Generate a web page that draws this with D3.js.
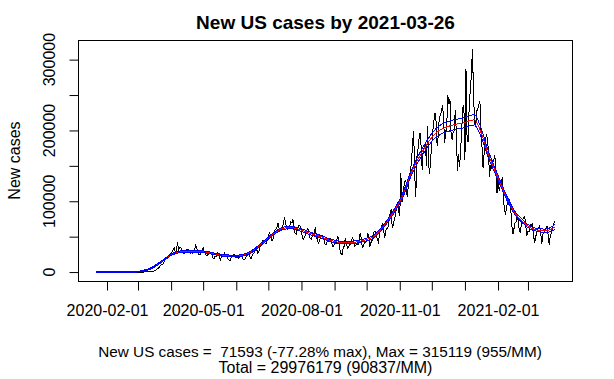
<!DOCTYPE html>
<html>
<head>
<meta charset="utf-8">
<script src="https://cdn.jsdelivr.net/npm/d3@7"></script>
<style>
  html, body { margin: 0; padding: 0; background: #fff; }
  svg { display: block; }
  text { font-family: "Liberation Sans", Arial, sans-serif; fill: #000; }
</style>
</head>
<body>
<svg id="chart" width="614" height="379"></svg>
<script>
// ---------------- DATA ----------------
const startDate = "2020-01-22";   // first daily value
const titleText = "New US cases by 2021-03-26";
const yAxisTitle = "New cases";
const footerLine1 = "New US cases =  71593 (-77.28% max), Max = 315119 (955/MM)";
const footerLine2 = "Total = 29976179 (90837/MM)";

// daily new cases, month by month
const jan2020 = [0,1,0,0,3,0,0,0,1,1];
const feb2020 = [1,0,3,0,0,0,1,0,0,1, 0,0,1,0,0,0,0,0,0,0, 2,0,0,0,0,1,3,4,8];
const mar2020 = [12,22,24,34,75,58,164,115,190,290, 420,460,640,720,1100,1320,1850,2880,4650,5560,
                 6880,9300,10540,10720,12800,17350,18620,19560,19950,21600, 25150];
const apr2020 = [26400,28900,32100,34200,27800,30600,42100,31800,34700,35100,
                 30500,27600,25800,27100,30300,31800,32400,30800,26400,27900,
                 26100,29300,30900,37800,33800,27100,23900,24600,27700,30200];
const may2020 = [33900,29200,25500,22900,24200,24800,28900,27700,25800,20500,
                 18600,22300,21400,27500,25900,24300,16500,22100,21300,21800,
                 27200,23800,22600,19400,16900,15400,19600,21700,24300,24600, 20500];
const jun2020 = [20300,21900,19800,21200,24800,23100,18500,17900,18300,21400,
                 22800,24600,25600,19900,19200,23600,26300,27800,31900,32500,
                 27100,28800,34500,37900,39400,45600,42800,40500,40100,44900];
const jul2020 = [50600,55100,53400,45300,44800,49700,58900,60100,62300,68900,
                 62000,58100,59400,63800,68200,75600,71400,61800,59900,61300,
                 64700,71200,69300,74100,64800,54900,53700,60300,63800,66300, 64900];
const aug2020 = [57800,47400,46200,50600,53100,58600,61200,55300,47900,46300,
                 50500,54600,52600,63500,51200,44400,40900,45500,48100,47200,
                 51900,47500,39600,38300,42800,43400,45200,47600,44200,36100, 35500];
const sep2020 = [41200,39800,44100,51300,42100,31800,26400,24500,33600,36800,
                 47800,41700,33800,35100,39200,38700,45500,48900,42300,36200,
                 38200,39300,39100,44800,55000,47600,34500,35500,43100,41600];
const oct2020 = [45100,54600,49200,35800,41500,44300,50900,57400,57900,53800,
                 46200,42100,51600,59800,64100,69500,57300,48300,58800,61200,
                 63800,76300,83100,88400,61900,67200,74800,80900,91300,99200, 84400];
const nov2020 = [79500,140000,98400,108200,121600,129300,126800,105400,121900,134800,
                 143100,155400,181200,199800,138600,106300,162400,171800,187900,196400,
                 177900,144600,174300,175200,184100,149300,205600,152700,139100,161800];
const dec2020 = [181200,199400,214600,224300,212800,177400,192600,218900,221700,226800,
                 236400,217500,182300,196800,206900,249800,237300,244100,196200,186700,
                 198400,199300,229100,194600,142300,166800,148500,172400,199800,231600, 235900];
const jan2021 = [158400,286300,190200,183600,234800,256100,276900,315119,257300,209800,
                 205400,227600,229400,236800,241900,201300,176200,146800,168400,183700,
                 193500,189800,170200,134800,151600,147300,154800,157900,165400,141800, 111200];
const feb2021 = [134600,115200,121400,123800,133900,102700,88900,80100,94300,95800,
                 104200,99100,86800,64200,54100,61900,69800,71300,79600,71200,
                 56800,56100,72300,74200,77100,78400,64200,51300];
const mar2021 = [58300,57400,66800,66100,68200,60100,41300,45200,57100,58900,
                 62400,65800,54200,39500,53100,56200,59300,63100,64400,50300,
                 37800,53300,54100,63900,67200,71593];

// smoothed fit (red) and its band (blue), read at these day offsets from startDate
const fitDays = [0,7,14,21,28,35,42,49,56,63,70,77,84,91,98,105,112,119,126,133,
                 140,147,154,161,168,175,182,189,196,203,210,217,224,231,238,245,252,259,266,273,
                 280,287,294,301,308,315,322,329,336,343,350,354,358,362,366,371,378,385,392,399,
                 406,413,420,427,429];
const fitValues = [0,0,0,0,100,300,1200,4000,9500,17000,24500,28300,29200,29300,29000,27500,25200,23500,22800,22800,
                   25000,30500,39000,48000,56500,61800,63000,60800,57000,53000,50000,45800,42800,41500,41600,43000,45500,49500,59600,73000,
                   89000,109000,137000,159000,177000,192000,201000,205500,208500,210500,214000,215000,205000,189000,170000,151000,126000,102000,83000,71500,
                   63000,59300,58300,61500,64000];
const fitUpper = [300,300,300,300,400,700,1800,4800,10500,18000,25600,29500,30400,30500,30200,28700,26400,24700,24000,24000,
                  26300,31900,40500,49500,58100,63400,64700,62600,58800,54800,51800,47600,44600,43300,43400,44800,47400,51500,61700,75300,
                  91600,112000,140500,163200,182000,197800,207500,212500,215500,217500,221200,222200,211500,194500,174800,155000,129300,104800,85400,73700,
                  65100,61400,60700,64700,67600];
const fitLower = [-300,-300,-300,-300,-200,-100,600,3200,8500,16000,23400,27100,28000,28100,27800,26300,24000,22300,21600,21600,
                  23700,29100,37500,46500,54900,60200,61300,59000,55200,51200,48200,44000,41000,39700,39800,41200,43600,47500,57500,70700,
                  86400,106000,133500,154800,172000,186200,194500,198500,201500,203500,206800,207800,198500,183500,165200,147000,122700,99200,80600,69300,
                  60900,57200,55900,58300,60400];

// axis ticks
const xTickStart = "2020-02-01", xTickEnd = "2021-03-01";
const xTickLabels = ["2020-02-01","2020-05-01","2020-08-01","2020-11-01","2021-02-01"];
const yTicks = [0,50000,100000,150000,200000,250000,300000];
const yTickLabels = [0,100000,200000,300000];

// ---------------- DRAW ----------------
const daily = [].concat(jan2020,feb2020,mar2020,apr2020,may2020,jun2020,jul2020,aug2020,
                        sep2020,oct2020,nov2020,dec2020,jan2021,feb2021,mar2021);
const parse = d3.utcParse("%Y-%m-%d");
const t0 = parse(startDate);
const series = daily.map((v,i) => ({date: d3.utcDay.offset(t0, i), value: v}));
const fit = fitDays.map((d,i) => ({date: d3.utcDay.offset(t0, d), value: fitValues[i], up: fitUpper[i], lo: fitLower[i]}));

const plot = {left: 78, right: 573, top: 40, bottom: 281};
const svg = d3.select("#chart");

// R-style 4% padding of the data range
const xExt = d3.extent(series, d => +d.date);
const xPad = (xExt[1] - xExt[0]) * 0.04;
const x = d3.scaleUtc().domain([new Date(xExt[0] - xPad), new Date(xExt[1] + xPad)]).range([plot.left, plot.right]);
const yMax = d3.max(daily), yMin = 0;
const yPad = (yMax - yMin) * 0.04;
const y = d3.scaleLinear().domain([yMin - yPad, yMax + yPad]).range([plot.bottom, plot.top]);

svg.append("defs").append("clipPath").attr("id","clip")
  .append("rect").attr("x", plot.left).attr("y", plot.top)
  .attr("width", plot.right - plot.left).attr("height", plot.bottom - plot.top);

const g = svg.append("g").attr("clip-path","url(#clip)");

g.append("path").datum(series)
  .attr("fill","none").attr("stroke","#000").attr("stroke-width",1)
  .attr("shape-rendering","crispEdges")
  .attr("d", d3.line().x(d => x(d.date)).y(d => y(d.value)));

const smooth = d3.curveMonotoneX;
g.append("path").datum(fit)
  .attr("fill","none").attr("stroke","#ff0000").attr("stroke-width",1)
  .attr("shape-rendering","crispEdges")
  .attr("d", d3.line().curve(smooth).x(d => x(d.date)).y(d => y(d.value)));
g.append("path").datum(fit)
  .attr("fill","none").attr("stroke","#0000ff").attr("stroke-width",1)
  .attr("shape-rendering","crispEdges")
  .attr("d", d3.line().curve(smooth).x(d => x(d.date)).y(d => y(d.up)));
g.append("path").datum(fit)
  .attr("fill","none").attr("stroke","#0000ff").attr("stroke-width",1)
  .attr("shape-rendering","crispEdges")
  .attr("d", d3.line().curve(smooth).x(d => x(d.date)).y(d => y(d.lo)));

// box
svg.append("rect")
  .attr("x", plot.left + 0.5).attr("y", plot.top + 0.5)
  .attr("width", plot.right - plot.left - 1).attr("height", plot.bottom - plot.top)
  .attr("fill","none").attr("stroke","#000").attr("stroke-width",1);

// x axis
const xTicks = d3.utcMonth.range(parse(xTickStart), d3.utcDay.offset(parse(xTickEnd), 1));
const fmt = d3.utcFormat("%Y-%m-%d");
const xAxis = d3.axisBottom(x).tickValues(xTicks).tickSize(9).tickSizeOuter(0)
  .tickFormat(d => xTickLabels.includes(fmt(d)) ? fmt(d) : "");
const gx = svg.append("g").attr("transform", `translate(0,${plot.bottom + 0.5})`).call(xAxis);
gx.select(".domain").remove();
gx.selectAll(".tick line").attr("stroke","#000");
gx.selectAll(".tick text").attr("y", 34).attr("dy", null)
  .style("font-family", '"Liberation Sans", Arial, sans-serif').style("font-size","16px").attr("fill","#000");

// y axis
const yAxis = d3.axisLeft(y).tickValues(yTicks).tickSize(9).tickSizeOuter(0).tickFormat("");
const gy = svg.append("g").attr("transform", `translate(${plot.left + 0.5},0)`).call(yAxis);
gy.select(".domain").remove();
gy.selectAll(".tick line").attr("stroke","#000");
svg.append("g").selectAll("text").data(yTickLabels).join("text")
  .attr("transform", d => `translate(55,${y(d)}) rotate(-90)`)
  .attr("text-anchor","middle").style("font-size","16px")
  .text(d => String(d));

// titles
svg.append("text").attr("x", (plot.left + plot.right)/2).attr("y", 28.5)
  .attr("text-anchor","middle").style("font-size","19px").style("font-weight","bold")
  .text(titleText);
svg.append("text").attr("transform", `translate(20,${(plot.top + plot.bottom)/2}) rotate(-90)`)
  .attr("text-anchor","middle").style("font-size","16px").text(yAxisTitle);
svg.append("text").attr("x", 320).attr("y", 356.5)
  .attr("text-anchor","middle").style("font-size","15.3px").style("white-space","pre")
  .text(footerLine1);
svg.append("text").attr("x", (plot.left + plot.right)/2).attr("y", 372.5)
  .attr("text-anchor","middle").style("font-size","16px").text(footerLine2);
</script>
</body>
</html>
